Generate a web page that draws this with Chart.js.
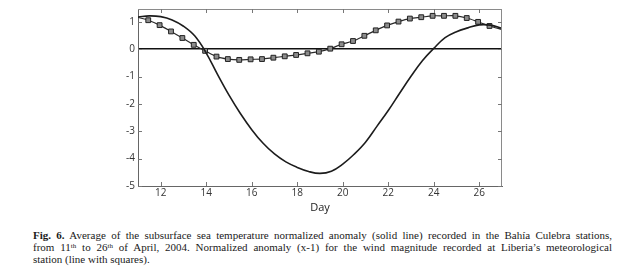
<!DOCTYPE html>
<html>
<head>
<meta charset="utf-8">
<script src="https://cdn.jsdelivr.net/npm/chart.js@4.4.1/dist/chart.umd.min.js"></script>
<style>
  body { margin: 0; background: #fff; width: 622px; height: 275px; overflow: hidden; position: relative; }
  #wrap { position: absolute; left: 0; top: 0; width: 622px; height: 215px; }
  #caption { position: absolute; left: 33px; top: 230px; width: 579px;
             font-family: "Liberation Serif", "Times New Roman", serif; font-size: 11px;
             line-height: 11.8px; color: #1a1a1a; }
  #caption span.ln { display: block; text-align: justify; text-align-last: justify; white-space: nowrap; }
  #caption span.last { display: block; }
  #caption sup { font-size: 7px; line-height: 0; vertical-align: 3px; }
</style>
</head>
<body>
<div id="wrap"><canvas id="grafico"></canvas></div>
<div id="caption">
  <span class="ln"><b>Fig. 6.</b> Average of the subsurface sea temperature normalized anomaly (solid line) recorded in the Bahía Culebra stations,</span>
  <span class="ln">from 11<sup>th</sup> to 26<sup>th</sup> of April, 2004. Normalized anomaly (x-1) for the wind magnitude recorded at Liberia’s meteorological</span>
  <span class="last">station (line with squares).</span>
</div>
<script>
// sea temperature anomaly (solid line)
const diasSST = [11, 11.5, 12, 12.5, 13, 13.5, 14, 14.5, 15, 15.5, 16, 16.5, 17, 17.5, 18, 18.5, 19,
                 19.5, 20, 20.5, 21, 21.5, 22, 22.5, 23, 23.5, 24, 24.5, 25, 25.5, 26, 26.5, 27];
const anomSST = [1.18, 1.22, 1.19, 1.07, 0.84, 0.48, -0.14, -0.93, -1.68, -2.35, -2.94, -3.44, -3.83, -4.12,
                 -4.32, -4.47, -4.54, -4.46, -4.2, -3.84, -3.4, -2.82, -2.24, -1.61, -0.99, -0.42,
                 0.03, 0.42, 0.64, 0.78, 0.89, 0.88, 0.76];

// wind anomaly (line with squares); first and last entries are the line ends at the frame
const diasViento = [11, 11.45, 11.95, 12.45, 12.95, 13.45, 13.95, 14.45, 14.95, 15.45, 15.95, 16.45, 16.95,
                    17.45, 17.95, 18.45, 18.95, 19.45, 19.95, 20.45, 20.95, 21.45, 21.95, 22.45, 22.95,
                    23.45, 23.95, 24.45, 24.95, 25.45, 25.95, 26.45, 27];
const anomViento = [1.16, 1.06, 0.88, 0.65, 0.41, 0.16, -0.06, -0.27, -0.36, -0.39, -0.37, -0.36, -0.31,
                    -0.26, -0.21, -0.15, -0.09, 0.02, 0.18, 0.3, 0.49, 0.69, 0.87, 1.01, 1.12,
                    1.17, 1.22, 1.22, 1.22, 1.14, 1.0, 0.85, 0.72];

const xTicks = [12, 14, 16, 18, 20, 22, 24, 26];
const yTicks = [-5, -4, -3, -2, -1, 0, 1];

function puntos(xs, ys){
    return xs.map((x, i) => ({x: x, y: ys[i]}));
}

// inward tick marks and the top/right frame, like the original plot
const marcas = {
    id: 'marcas',
    afterDatasetsDraw(chart){
        const {ctx, chartArea: a, scales} = chart;
        ctx.save();
        ctx.strokeStyle = '#8a8a8a';
        ctx.lineWidth = 1;
        ctx.beginPath();
        ctx.moveTo(a.left, a.top + 0.5); ctx.lineTo(a.right, a.top + 0.5);
        ctx.moveTo(a.right - 0.5, a.top); ctx.lineTo(a.right - 0.5, a.bottom);
        ctx.stroke();
        ctx.strokeStyle = '#777';
        ctx.beginPath();
        scales.x.ticks.forEach(t => {
            const px = Math.round(scales.x.getPixelForValue(t.value)) + 0.5;
            ctx.moveTo(px, a.bottom); ctx.lineTo(px, a.bottom - 4);
            ctx.moveTo(px, a.top); ctx.lineTo(px, a.top + 4);
        });
        scales.y.ticks.forEach(t => {
            const py = Math.round(scales.y.getPixelForValue(t.value)) + 0.5;
            ctx.moveTo(a.left, py); ctx.lineTo(a.left + 4, py);
            ctx.moveTo(a.right, py); ctx.lineTo(a.right - 4, py);
        });
        ctx.stroke();
        ctx.restore();
    }
};

const ctx = document.getElementById('grafico').getContext('2d');
const ultimo = diasViento.length - 1;
const myChart = new Chart(ctx, {
    type: 'line',
    data: {
        datasets: [{
            label: 'SST',
            data: puntos(diasSST, anomSST),
            borderColor: '#1c1c1c',
            borderWidth: 1.6,
            pointRadius: 0,
            tension: 0.4
        }, {
            label: 'Viento',
            data: puntos(diasViento, anomViento),
            borderColor: '#2a2a2a',
            borderWidth: 1.2,
            pointStyle: 'rect',
            pointRadius: c => (c.dataIndex === 0 || c.dataIndex === ultimo) ? 0 : 3.4,
            pointBackgroundColor: '#8c8c8c',
            pointBorderColor: '#222',
            pointBorderWidth: 1,
            tension: 0.3
        }]
    },
    options: {
        responsive: true,
        maintainAspectRatio: false,
        animation: false,
        layout: { padding: { left: 0, right: 120, top: 8, bottom: 0 } },
        scales: {
            x: {
                type: 'linear',
                min: 11,
                max: 27,
                afterBuildTicks: s => { s.ticks = xTicks.map(v => ({value: v})); },
                afterFit: s => { s.height = 29; },
                grid: { display: false, drawTicks: false },
                border: { display: true, color: '#666', width: 1 },
                ticks: { padding: 1, color: '#333', font: { family: 'Open Sans', size: 10 } },
                title: { display: true, text: 'Day', color: '#222',
                         padding: { top: 0, bottom: 1 }, font: { family: 'Open Sans', size: 11 } }
            },
            y: {
                min: -5,
                max: 1.47,
                afterBuildTicks: s => { s.ticks = yTicks.map(v => ({value: v})); },
                afterFit: s => { s.width = 138; },
                grid: {
                    drawTicks: false,
                    color: c => c.tick && c.tick.value === 0 ? '#111' : 'rgba(0,0,0,0)',
                    lineWidth: c => c.tick && c.tick.value === 0 ? 1.6 : 0
                },
                border: { display: true, color: '#666', width: 1 },
                ticks: { padding: 3, color: '#333', font: { family: 'Open Sans', size: 10 } }
            }
        },
        plugins: {
            legend: { display: false },
            tooltip: { enabled: false }
        }
    },
    plugins: [marcas]
});
</script>
</body>
</html>
